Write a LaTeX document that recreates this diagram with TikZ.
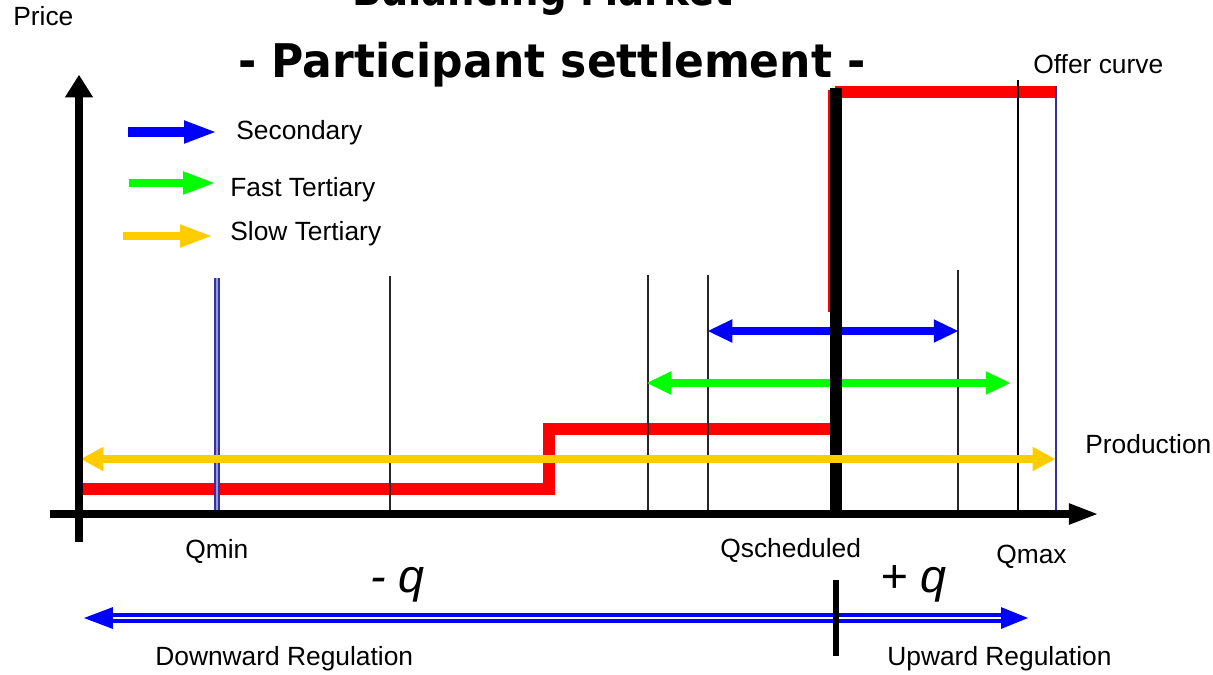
\documentclass[tikz,border=0pt]{standalone}
\usepackage{fontspec}
\setmainfont{Liberation Sans}
\newfontfamily\headfont{DejaVu Sans}
\usetikzlibrary{arrows.meta}
\definecolor{secblue}{RGB}{0,0,255}
\definecolor{fastgreen}{RGB}{0,255,0}
\definecolor{slowyellow}{RGB}{255,204,0}
\definecolor{offerred}{RGB}{255,0,0}
\definecolor{limitblue}{RGB}{51,51,153}
\definecolor{limitpale}{RGB}{150,150,220}

% one drawing unit = 0.02cm = 0.567pt
\begin{document}
\begin{tikzpicture}[x=0.02cm, y=-0.02cm,
  lbl/.style={font=\fontsize{15}{18}\selectfont, inner sep=0pt, anchor=base west},
  bigq/.style={font=\fontsize{26.6}{30}\selectfont\itshape, inner sep=0pt, anchor=base west},
  head/.style={inner sep=0pt, anchor=base},
  offer/.style={offerred, line width=6.7pt},
  gridline/.style={black!85, line width=0.95pt},
  legarrow/.style={line width=5.4pt, -{Triangle[length=17.6pt, width=13.4pt, line width=0pt]}},
  spanarrow/.style={line width=4.3pt,
    {Triangle[length=13.8pt, width=13.4pt, line width=0pt]}-{Triangle[length=13.8pt, width=13.4pt, line width=0pt]}},
  axis/.style={black, line width=4.9pt}
]
\clip (0,0) rectangle (1213,674);
\fill[white] (0,0) rectangle (1213,674);

% headings
\node[head] (hbm) at (543,5)
  {\scalebox{0.833}[1]{\headfont\bfseries\fontsize{26.4}{30}\selectfont Balancing Market}};
\node[head] (hps) at (552,77)
  {\scalebox{0.95}[1]{\headfont\bfseries\fontsize{26.4}{30}\selectfont - Participant settlement -}};

% axis and curve labels
\node[lbl] (price) at (13,25) {Price};
\node[lbl] (offerlbl) at (1033,73) {Offer curve};
\node[lbl] (prod) at (1085,453) {Production};
\node[lbl] (qmin) at (185,558) {Qmin};
\node[lbl] (qsch) at (720,557) {Qscheduled};
\node[lbl] (qmax) at (996,563) {Qmax};
\node[lbl] (down) at (155,665) {Downward Regulation};
\node[lbl] (up) at (887,665) {Upward Regulation};
\node[bigq] (minusq) at (370,592) {- q};
\node[bigq] (plusq) at (880,592) {+ q};

% legend
\node[lbl] (lsec) at (236,139) {Secondary};
\node[lbl] (lfast) at (230,196) {Fast Tertiary};
\node[lbl] (lslow) at (230,240) {Slow Tertiary};
\coordinate (ls0) at (128,132); \coordinate (ls1) at (215,132);
\coordinate (lf0) at (129,183); \coordinate (lf1) at (214,183);
\coordinate (ly0) at (123,236); \coordinate (ly1) at (211,236);
\draw[legarrow, secblue] (ls0) -- (ls1);
\draw[legarrow, fastgreen, line width=4.9pt] (lf0) -- (lf1);
\draw[legarrow, slowyellow, line width=4.6pt] (ly0) -- (ly1);

% offer curve
\coordinate (o1) at (80,489);
\coordinate (o2) at (549,489);
\coordinate (o3) at (549,429);
\coordinate (o4) at (830,429);
\coordinate (o5) at (829,312);
\coordinate (o6) at (829,90);
\coordinate (o7) at (835,92);
\coordinate (o8) at (1055,92);
\draw[offer, line join=miter] (o1) -- (o2) -- (o3) -- (o4);
\draw[offerred, line width=1.2pt] (o5) -- (o6);
\draw[offer] (o7) -- (o8);

% quantity markers
\foreach \gx/\gt in {390/276, 648/275, 708/275, 958/270}
  \draw[gridline] (\gx,\gt) -- (\gx,514);
\draw[black, line width=1.3pt] (1018,80) -- (1018,510);
\draw[limitblue, line width=3.2pt] (217,278) -- (217,514);
\draw[limitpale, line width=0.9pt] (217,278) -- (217,514);
\draw[limitblue, line width=1.2pt] (1056,86) -- (1056,514);

% reserve bands
\coordinate (s0) at (708,331); \coordinate (s1) at (958,331);
\coordinate (f0) at (647,383); \coordinate (f1) at (1010,383);
\draw[spanarrow, secblue] (s0) -- (s1);
\draw[spanarrow, fastgreen, line width=4pt] (f0) -- (f1);

% scheduled quantity
\coordinate (qs0) at (836,88); \coordinate (qs1) at (836,514);
\draw[black, line width=6.6pt] (qs0) -- (qs1);

\coordinate (y0) at (81,459); \coordinate (y1) at (1055,459);
\draw[slowyellow, line width=4.9pt,
  {Triangle[length=12.8pt, width=14pt, line width=0pt]}-{Triangle[length=12.8pt, width=14pt, line width=0pt]}]
  (y0) -- (y1);

% axes
\coordinate (yb) at (79,542); \coordinate (yt) at (79,75);
\coordinate (xl) at (50,514); \coordinate (xr) at (1097,514);
\draw[axis, -{Triangle[length=12.8pt, width=16.2pt, line width=0pt]}] (yb) -- (yt);
\draw[axis, -{Triangle[length=16pt, width=12.4pt, line width=0pt]}] (xl) -- (xr);

% regulation range
\coordinate (r0) at (84,618); \coordinate (r1) at (1028,618);
\coordinate (w0) at (113,618); \coordinate (w1) at (1001,618);
\draw[secblue, line width=5.3pt,
  {Triangle[length=16.4pt, width=12.4pt, line width=0pt]}-{Triangle[length=15.3pt, width=12.4pt, line width=0pt]}]
  (r0) -- (r1);
\draw[white, line width=1.1pt] (w0) -- (w1);
\coordinate (t0) at (836,580); \coordinate (t1) at (836,656);
\draw[black, line width=3pt] (t0) -- (t1);
\end{tikzpicture}
\end{document}
